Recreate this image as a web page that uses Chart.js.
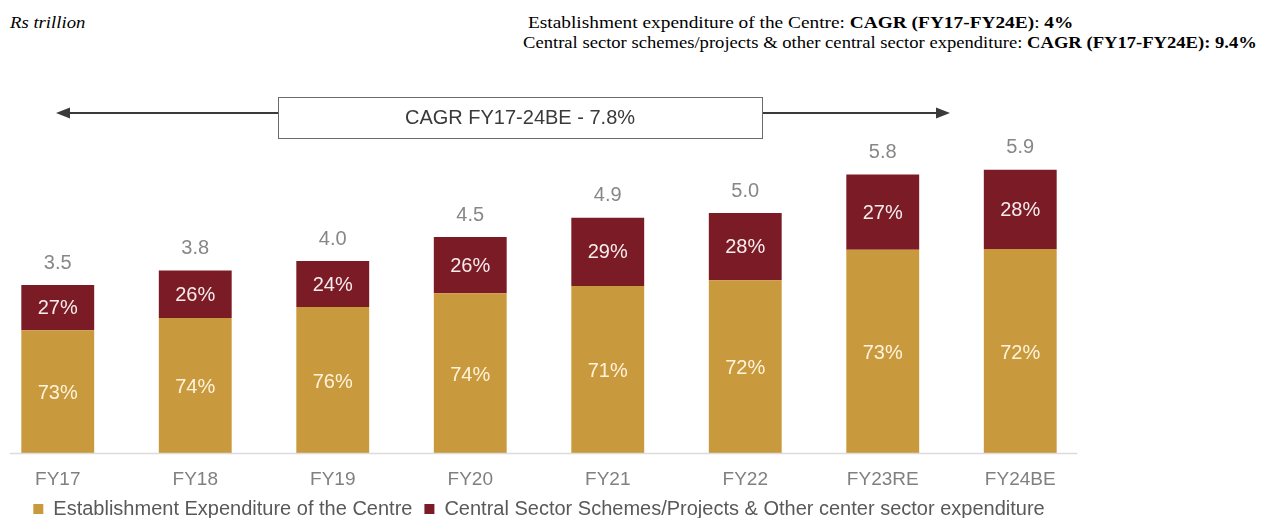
<!DOCTYPE html>
<html>
<head>
<meta charset="utf-8">
<script src="https://cdn.jsdelivr.net/npm/chart.js@4.4.0/dist/chart.umd.min.js"></script>
<style>
  html, body { margin: 0; padding: 0; background: #ffffff; width: 1265px; height: 518px; overflow: hidden; position: relative; }
  .hdr { position: absolute; font-family: "Liberation Serif", "Times New Roman", serif; color: #000; white-space: nowrap; font-size: 17px; transform-origin: 0 0; }
  #unit { left: 10px; top: 13px; font-style: italic; transform: scaleX(1.1); }
  #l1 { left: 528px; top: 13px; transform: scaleX(1.138); }
  #l2 { left: 523px; top: 33px; transform: scaleX(1.094); }
  #wrap { position: absolute; left: -11px; top: 0; width: 1100px; height: 529px; }
</style>
</head>
<body>
<div class="hdr" id="unit">Rs trillion</div>
<div class="hdr" id="l1">Establishment expenditure of the Centre: <b>CAGR (FY17-FY24E)</b>: <b>4%</b></div>
<div class="hdr" id="l2">Central sector schemes/projects &amp; other central sector expenditure: <b>CAGR (FY17-FY24E): 9.4%</b></div>
<div id="wrap"><canvas id="c"></canvas></div>
<script>
const categories = ['FY17', 'FY18', 'FY19', 'FY20', 'FY21', 'FY22', 'FY23RE', 'FY24BE'];
const totals = [3.5, 3.8, 4.0, 4.5, 4.9, 5.0, 5.8, 5.9];
const establishmentShare = [73, 74, 76, 74, 71, 72, 73, 72];
const centralSectorShare = [27, 26, 24, 26, 29, 28, 27, 28];
const seriesNames = ['Establishment Expenditure of the Centre', 'Central Sector Schemes/Projects & Other center sector expenditure'];
const cagrText = 'CAGR FY17-24BE - 7.8%';

const establishmentValues = totals.map((t, i) => t * establishmentShare[i] / 100);
const centralSectorValues = totals.map((t, i) => t * centralSectorShare[i] / 100);

const GOLD = '#C99A3D';
const MAROON = '#7B1B26';
const FONT = '"Liberation Sans", Arial, sans-serif';

const labelPlugin = {
  id: 'labels',
  afterDatasetsDraw(chart) {
    const ctx = chart.ctx;
    ctx.save();
    ctx.font = '20px ' + FONT;
    ctx.textAlign = 'center';
    ctx.textBaseline = 'middle';
    const shares = [establishmentShare, centralSectorShare];
    const colors = ['#FFF3DC', '#F7ECEC'];
    chart.data.datasets.forEach((ds, di) => {
      const meta = chart.getDatasetMeta(di);
      meta.data.forEach((bar, i) => {
        ctx.fillStyle = colors[di];
        ctx.fillText(shares[di][i] + '%', bar.x, (bar.y + bar.base) / 2 + (di === 0 ? 2 : 1));
      });
    });
    const top = chart.getDatasetMeta(1);
    ctx.fillStyle = '#878787';
    top.data.forEach((bar, i) => {
      ctx.fillText(totals[i].toFixed(1), bar.x, bar.y - 22);
    });
    // axis line
    const xs = chart.scales.x;
    const base = chart.chartArea.bottom;
    ctx.strokeStyle = '#DCDCDC';
    ctx.lineWidth = 1.5;
    ctx.beginPath();
    ctx.moveTo(xs.getPixelForValue(0) - 48, base + 0.5);
    ctx.lineTo(xs.getPixelForValue(categories.length - 1) + 57, base + 0.5);
    ctx.stroke();
    ctx.restore();
  },
  afterDraw(chart) {
    const ctx = chart.ctx;
    const off = 11; // canvas is shifted left by 11px
    const ay = 113;
    const bx1 = 278 + off, bx2 = 762 + off, by1 = 97, by2 = 138;
    const tipL = 56 + off, tipR = 950 + off;
    ctx.save();
    ctx.strokeStyle = '#3a3a3a';
    ctx.fillStyle = '#3a3a3a';
    ctx.lineWidth = 2;
    ctx.beginPath();
    ctx.moveTo(tipL + 10, ay); ctx.lineTo(bx1, ay);
    ctx.moveTo(bx2, ay); ctx.lineTo(tipR - 10, ay);
    ctx.stroke();
    ctx.beginPath();
    ctx.moveTo(tipL, ay); ctx.lineTo(tipL + 14, ay - 5.5); ctx.lineTo(tipL + 14, ay + 5.5); ctx.closePath(); ctx.fill();
    ctx.beginPath();
    ctx.moveTo(tipR, ay); ctx.lineTo(tipR - 14, ay - 5.5); ctx.lineTo(tipR - 14, ay + 5.5); ctx.closePath(); ctx.fill();
    ctx.fillStyle = '#ffffff';
    ctx.fillRect(bx1, by1, bx2 - bx1, by2 - by1);
    ctx.strokeStyle = '#6b6b6b';
    ctx.lineWidth = 1;
    ctx.strokeRect(bx1 + 0.5, by1 + 0.5, bx2 - bx1, by2 - by1);
    ctx.fillStyle = '#3a3a3a';
    ctx.font = '20px ' + FONT;
    ctx.textAlign = 'center';
    ctx.textBaseline = 'middle';
    ctx.fillText(cagrText, (bx1 + bx2) / 2, 118);
    ctx.restore();
  }
};

new Chart(document.getElementById('c'), {
  type: 'bar',
  data: {
    labels: categories,
    datasets: [
      { label: seriesNames[0], data: establishmentValues, backgroundColor: GOLD, borderWidth: 0, categoryPercentage: 1, barPercentage: 0.53 },
      { label: seriesNames[1], data: centralSectorValues, backgroundColor: MAROON, borderWidth: 0, categoryPercentage: 1, barPercentage: 0.53 }
    ]
  },
  options: {
    responsive: true,
    maintainAspectRatio: false,
    animation: false,
    layout: { padding: { top: 165, left: 0, right: 0, bottom: 0 } },
    plugins: {
      tooltip: { enabled: false },
      legend: {
        position: 'bottom',
        labels: {
          boxWidth: 10, boxHeight: 10, padding: 12,
          color: '#595959',
          font: { family: FONT, size: 20 }
        }
      }
    },
    scales: {
      x: {
        stacked: true,
        grid: { display: false, drawTicks: false },
        border: { display: false },
        ticks: { color: '#808080', font: { family: FONT, size: 19 }, padding: 15 },
        afterFit(scale) { scale.height = 34; }
      },
      y: {
        stacked: true,
        display: false,
        min: 0,
        max: 6
      }
    }
  },
  plugins: [labelPlugin]
});
</script>
</body>
</html>
